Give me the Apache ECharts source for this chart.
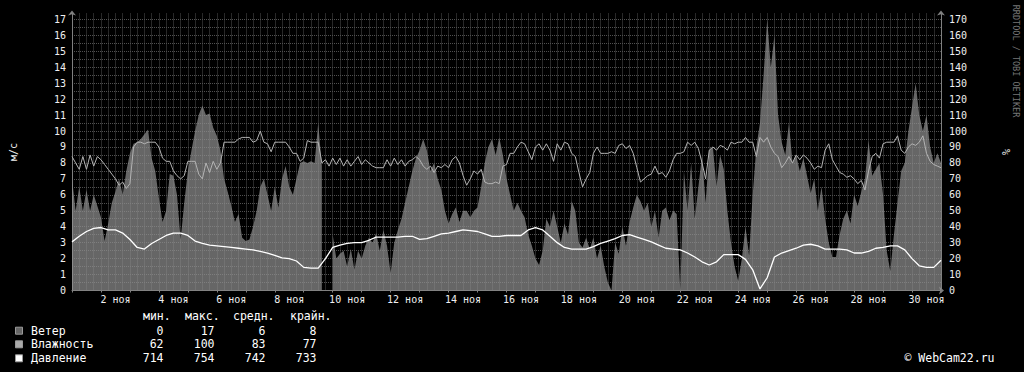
<!DOCTYPE html>
<html><head><meta charset="utf-8">
<script src="https://cdn.jsdelivr.net/npm/echarts@6/dist/echarts.min.js"></script>
<style>html,body{margin:0;padding:0;background:#000;}#c{width:1024px;height:372px;}</style>
</head><body><div id="c"></div>
<script>
// Day categories (November), used for the bottom labels
const days = ['1 ноя','2 ноя','3 ноя','4 ноя','5 ноя','6 ноя','7 ноя','8 ноя','9 ноя','10 ноя',
  '11 ноя','12 ноя','13 ноя','14 ноя','15 ноя','16 ноя','17 ноя','18 ноя','19 ноя','20 ноя',
  '21 ноя','22 ноя','23 ноя','24 ноя','25 ноя','26 ноя','27 ноя','28 ноя','29 ноя','30 ноя'];

// Wind, m/s, every 3 hours from 1 Nov 00:00 (null = no data)
const windStepHours = 3;
const wind = [
 7.0,5.0,6.5,5.0,6.3,5.0,6.0,5.3, 4.6,3.1,4.2,5.5,6.2,7.0,6.0,7.5,
 8.6,9.2,9.3,9.5,9.8,10.1,8.3,7.5, 5.8,4.3,5.0,7.3,7.2,6.0,3.2,5.5,
 7.5,8.8,10.0,11.0,11.6,11.0,11.1,10.2, 9.7,8.8,7.0,6.2,5.3,4.3,4.8,3.3,
 3.1,3.2,4.0,5.0,6.5,7.0,6.0,5.0, 6.5,5.2,7.0,7.8,6.5,6.0,7.0,8.0,
 8.1,8.0,8.1,8.0,10.5,7.8,null,null, 3.5,2.0,2.3,2.5,1.5,2.6,1.3,2.5,
 2.0,2.8,3.3,3.0,3.6,2.5,3.8,2.8, 1.1,3.0,3.8,4.5,5.5,6.5,7.5,8.3,
 8.8,9.5,8.8,7.5,8.0,7.0,6.3,5.0, 4.2,4.8,5.2,4.3,5.0,5.0,4.6,5.0,
 5.2,6.5,8.0,9.0,9.5,8.5,9.6,8.5, 7.0,6.0,5.0,5.5,5.0,4.6,3.5,2.8,
 2.0,1.6,2.5,4.5,4.0,5.0,4.0,3.0, 4.2,3.5,5.6,5.0,3.0,2.7,3.3,2.6,
 3.3,2.0,2.8,1.5,0.5,0.0,3.0,2.3, 4.0,2.8,4.3,5.2,6.0,5.6,5.0,5.5,
 4.0,5.0,3.3,5.0,5.2,4.4,5.0,4.8, 0,7.5,5.0,8.0,4.5,6.5,8.5,5.5,
 8.8,9.0,6.5,8.5,7.6,5.0,3.0,1.5, 0.6,2.0,4.0,2.2,6.0,9.0,10.5,13.5,
 17.0,14.0,16.0,11.0,9.3,8.5,10.5,8.0, 8.5,7.5,8.3,7.2,6.1,7.0,5.0,6.5,
 4.5,3.0,2.1,2.1,3.5,4.5,5.0,4.2, 6.0,5.3,6.2,7.0,9.4,7.2,7.6,8.0,
 6.0,2.5,1.2,3.5,5.5,7.5,8.0,10.0, 11.5,13.0,11.0,10.0,11.0,9.0,8.0,8.6,
 8.0
];

// Humidity, %, every 3 hours
const humStepHours = 3;
const humidity = [
 84,80,76,84,76,85,78,84, 82,79,76,73,70,66,68,64,
 67,90,93,93,92,93,93,93, 90,83,81,81,75,72,70,72,
 81,81,81,73,70,80,74,81, 76,80,93,93,93,93,95,96,
 96,96,93,94,100,93,92,87, 93,93,93,93,90,86,86,81,
 83,94,93,93,93,80,82,78, 83,79,83,78,82,78,81,84,
 79,82,80,78,77,77,77,82, 78,83,79,82,78,81,82,84,
 82,78,76,78,74,78,77,79, 77,82,84,80,72,66,70,75,
 73,76,68,67,67,68,67,78, 79,86,86,90,93,92,87,82,
 90,92,88,92,88,81,92,88, 93,92,86,84,74,65,70,74,
 86,90,86,86,86,87,86,91, 92,89,91,86,77,68,70,72,
 73,78,73,74,71,75,82,86, 86,87,93,91,93,89,80,70,
 88,90,88,91,90,88,93,92, 93,93,96,93,93,84,96,93,
 96,90,86,84,77,80,84,80, 85,82,85,83,80,76,78,77,
 88,92,82,78,74,73,71,72, 70,67,69,63,75,84,86,83,
 92,93,93,93,97,88,86,90, 92,91,93,97,86,81,79,78,
 77
];

// Pressure, mm Hg, every 6 hours
const presStepHours = 6;
const pressure = [
 744.5,748,751,753,753.5,752,752,750, 746,741,740,743.5,746,748.5,750,750,
 748.5,745,743.5,742.5,742,741.5,741,740.5, 740,739.5,738.5,737.5,736,734.5,734,732.5,
 728.5,728,728,734,741,742.5,743.5,744, 744,745.5,747.5,747.5,747.5,747.5,748,748,
 746,746.5,748,749.5,750,751,752,751.5, 751,749.5,748,748,748.5,748.5,748.5,752,
 753.5,752,748,744,741,740,740,740, 741.5,743.5,745,746.5,748.5,749,747.5,746,
 744.5,742.5,740.5,740,739.5,737.5,735,732, 730,732,736.5,736.5,736.5,733.5,727,715,
 722,735,737.5,739,740.5,742.5,743,742, 740,740,740,739.5,737.5,737.5,738.5,740.5,
 741,742,742,739.5,734,729.5,728.5,728.5, 733
];

// Legend table
const legendNames = ['Ветер','Влажность','Давление'];
const legendColors = ['#666666','#aaaaaa','#ffffff'];
const statHeads = ['мин.','макс.','средн.','крайн.'];
const statMin = ['0','62','714'];
const statMax = ['17','100','754'];
const statAvg = ['6','83','742'];
const statLast = ['8','77','733'];

const FONT = 'DejaVu Sans Mono';
const toDays = (arr, h) => arr.map((v, i) => [i * h / 24, v]);

const chart = echarts.init(document.getElementById('c'), null, {renderer: 'svg'});

const gridLine = {show: true, lineStyle: {color: '#505050', type: [1, 1], width: 1}};
const axisLineStyle = {color: '#808080', width: 1};

const graphics = [];
const headX = [143, 185, 233, 290];
statHeads.forEach((t, k) => graphics.push({type: 'text', left: headX[k], top: 310,
  style: {text: t, fill: '#fff', font: '11.5px "' + FONT + '"'}}));
const colRight = [163.5, 214.5, 265.5, 316.5];
const rowY = [330.7, 344.3, 358.3];
legendNames.forEach((n, r) => {
  graphics.push({type: 'rect', shape: {x: 15.5, y: rowY[r] - 3.5, width: 7, height: 7},
    style: {fill: legendColors[r], stroke: '#999', lineWidth: 1}});
  graphics.push({type: 'text', x: 31, y: rowY[r],
    style: {text: n, fill: '#fff', font: '11.5px "' + FONT + '"', verticalAlign: 'middle'}});
  [statMin, statMax, statAvg, statLast].forEach((col, k) => graphics.push({type: 'text', x: colRight[k], y: rowY[r],
    style: {text: col[r], fill: '#fff', font: '11.5px "' + FONT + '"', align: 'right', verticalAlign: 'middle'}}));
});
graphics.push({type: 'text', x: 994.5, y: 358.3,
  style: {text: '© WebCam22.ru', fill: '#fff', font: '11.5px "' + FONT + '"', align: 'right', verticalAlign: 'middle'}});
graphics.push({type: 'text', x: 1016, y: 61, rotation: -Math.PI / 2,
  style: {text: 'RRDTOOL / TOBI OETIKER', fill: '#777', font: '8.5px "' + FONT + '"', align: 'center', verticalAlign: 'middle'}});

chart.setOption({
  backgroundColor: '#000',
  animation: false,
  grid: {left: 67, right: 83, top: 13.5, bottom: 81.5},
  graphic: graphics,
  xAxis: [
    {type: 'value', min: 0, max: 30, interval: 0.25,
     axisLine: {show: true, onZero: false, lineStyle: axisLineStyle, symbol: ['none', 'arrow'], symbolSize: [6, 5], symbolOffset: [0, 3]},
     axisTick: {show: false}, axisLabel: {show: false},
     splitLine: Object.assign({showMinLine: false, showMaxLine: false}, gridLine)},
    {type: 'category', data: days, boundaryGap: true, position: 'bottom',
     axisLine: {show: false},
     axisTick: {show: true, interval: 0, length: 2, lineStyle: {color: '#808080'}},
     axisLabel: {interval: (i) => i % 2 === 1, color: '#f0f0f0', fontFamily: FONT, fontSize: 10, margin: 4},
     splitLine: {show: false}}
  ],
  yAxis: [
    {type: 'value', min: 0, max: 17.37, interval: 0.5, position: 'left',
     name: 'м/с', nameLocation: 'middle', nameRotate: 90, nameGap: 54,
     nameTextStyle: {color: '#f0f0f0', fontFamily: FONT, fontSize: 10},
     axisLine: {show: true, onZero: false, lineStyle: axisLineStyle, symbol: ['none', 'arrow'], symbolSize: [6, 5], symbolOffset: [0, 3]},
     axisTick: {show: false},
     axisLabel: {color: '#f0f0f0', fontFamily: FONT, fontSize: 10, margin: 6, showMaxLabel: false,
       formatter: (v) => (Math.abs(v - Math.round(v)) < 1e-6 ? String(Math.round(v)) : '')},
     splitLine: Object.assign({showMinLine: false, showMaxLine: false}, gridLine)},
    {type: 'value', min: 0, max: 173.7, interval: 5, position: 'right',
     name: '%', nameLocation: 'middle', nameRotate: 90, nameGap: 60,
     nameTextStyle: {color: '#f0f0f0', fontFamily: FONT, fontSize: 10},
     axisLine: {show: true, onZero: false, lineStyle: axisLineStyle, symbol: ['none', 'arrow'], symbolSize: [6, 5], symbolOffset: [0, 3]},
     axisTick: {show: false},
     axisLabel: {color: '#f0f0f0', fontFamily: FONT, fontSize: 10, margin: 8, showMaxLabel: false,
       formatter: (v) => (Math.abs(v % 10) < 1e-6 ? String(Math.round(v)) : '')},
     splitLine: {show: false}},
    {type: 'value', min: 714, max: 887.7, show: false}
  ],
  series: [
    {name: 'Ветер', type: 'line', xAxisIndex: 0, yAxisIndex: 0, data: toDays(wind, windStepHours),
     showSymbol: false, symbol: 'none', lineStyle: {width: 0, opacity: 0},
     areaStyle: {color: 'rgba(145,145,145,0.7)', opacity: 1}, connectNulls: false, z: 1},
    {name: 'Влажность', type: 'line', xAxisIndex: 0, yAxisIndex: 1, data: toDays(humidity, humStepHours),
     showSymbol: false, symbol: 'none', lineStyle: {width: 1, color: '#b4b4b4'}, z: 2},
    {name: 'Давление', type: 'line', xAxisIndex: 0, yAxisIndex: 2, data: toDays(pressure, presStepHours),
     showSymbol: false, symbol: 'none', lineStyle: {width: 1.3, color: '#ffffff'}, z: 3}
  ]
});
</script></body></html>
